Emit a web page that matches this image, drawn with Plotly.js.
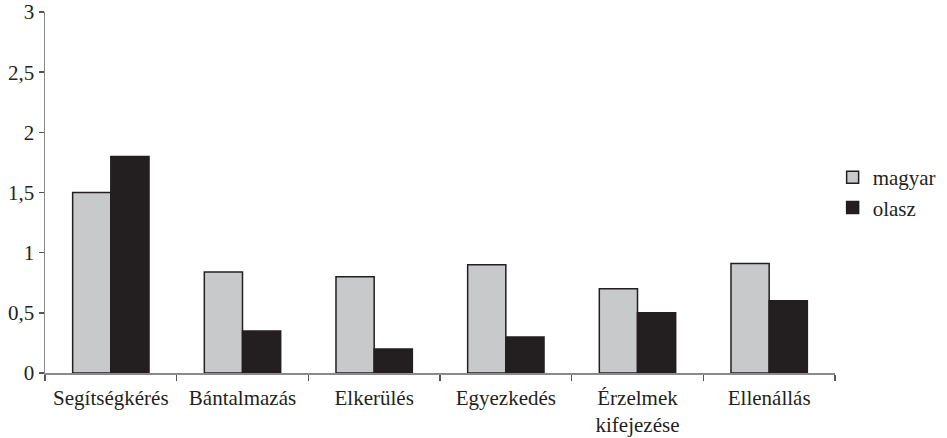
<!DOCTYPE html>
<html>
<head>
<meta charset="utf-8">
<script src="https://cdn.plot.ly/plotly-3.0.1.min.js"></script>
<style>
html,body{margin:0;padding:0;background:#fff;}
#chart{width:947px;height:438px;}
#chart svg text{font-family:'Liberation Serif', 'Times New Roman', serif !important;}
</style>
</head>
<body>
<div id="chart"></div>
<script>
const categories = ["Segítségkérés", "Bántalmazás", "Elkerülés", "Egyezkedés", "Érzelmek<br>kifejezése", "Ellenállás"];
const magyar = [1.5, 0.84, 0.8, 0.9, 0.7, 0.91];
const olasz = [1.8, 0.35, 0.2, 0.3, 0.5, 0.6];
const yTickVals = [0, 0.5, 1, 1.5, 2, 2.5, 3];
const yTickText = ["0", "0,5", "1", "1,5", "2", "2,5", "3"];

const font = {family: "Liberation Serif", size: 21, color: "#231f20"};

const data = [
  {type: "bar", name: "magyar", x: categories, y: magyar,
   marker: {color: "#c8c9cb", line: {color: "#231f20", width: 1.5}}},
  {type: "bar", name: "olasz", x: categories, y: olasz,
   marker: {color: "#231f20", line: {color: "#231f20", width: 1.5}}}
];

const layout = {
  width: 947, height: 438,
  margin: {l: 45, r: 112, t: 12, b: 65, autoexpand: false},
  paper_bgcolor: "#fff", plot_bgcolor: "#fff",
  font: font,
  barmode: "group",
  bargap: 0.42,
  bargroupgap: 0,
  showlegend: true,
  legend: {x: 0.997, y: 0.5, xanchor: "left", yanchor: "middle", font: font,
           itemwidth: 30, tracegroupgap: 4, bgcolor: "rgba(0,0,0,0)"},
  xaxis: {
    type: "category", range: [-0.5, 5.5],
    showline: true, linecolor: "#8a8a8a", linewidth: 1.5,
    ticks: "outside", tickson: "boundaries", ticklen: 6, tickcolor: "#555", tickwidth: 1.5,
    ticklabelstandoff: 5,
    showgrid: false, zeroline: false, tickfont: font, automargin: false
  },
  yaxis: {
    range: [0, 3], tickvals: yTickVals, ticktext: yTickText,
    showline: true, linecolor: "#8a8a8a", linewidth: 1.5,
    ticks: "outside", ticklen: 5, tickcolor: "#555", tickwidth: 1.5,
    showgrid: false, zeroline: false, tickfont: font, automargin: false
  }
};

Plotly.newPlot("chart", data, layout, {displayModeBar: false, staticPlot: true});
</script>
</body>
</html>
